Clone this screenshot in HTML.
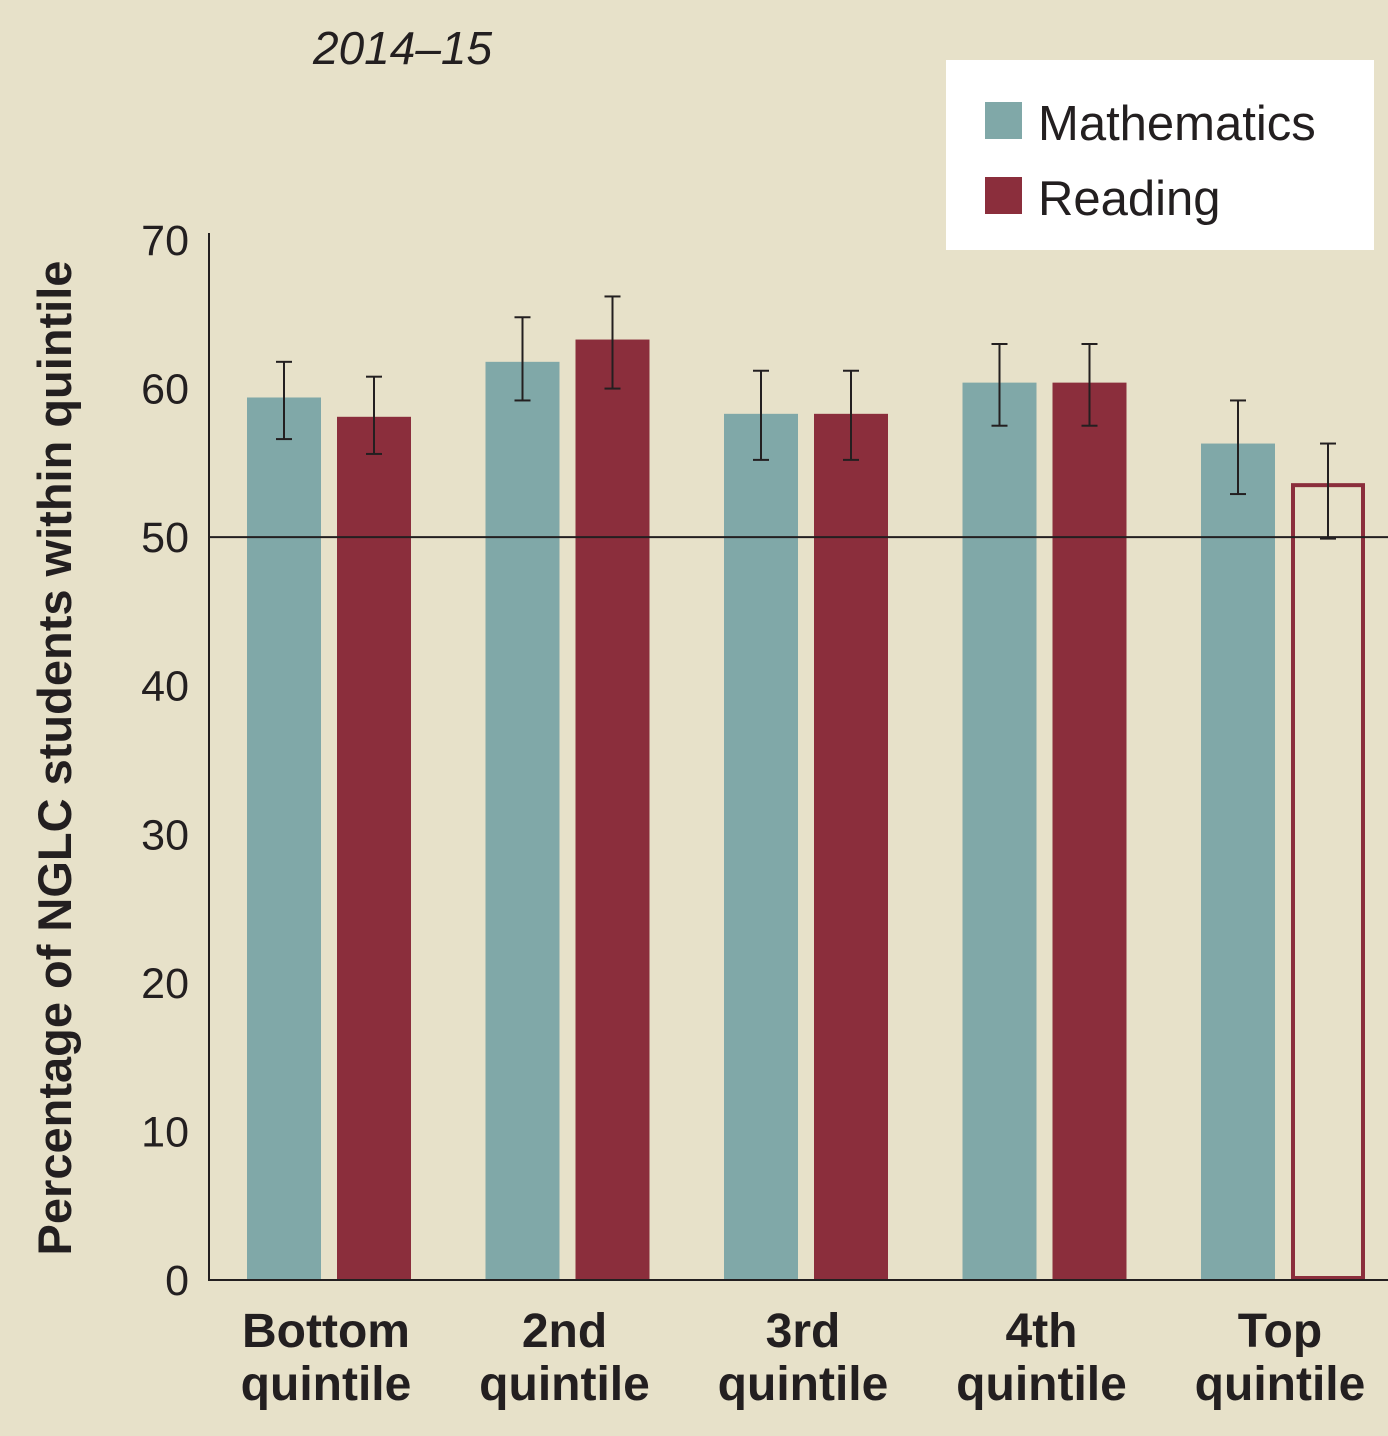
<!DOCTYPE html>
<html><head><meta charset="utf-8"><style>
body{margin:0;background:#e7e1c9;}
svg{display:block;font-family:"Liberation Sans",sans-serif;}
</style></head><body>
<svg id="chart" width="1388" height="1436" viewBox="0 0 1388 1436">
<rect width="1388" height="1436" fill="#e7e1c9"/>
<text x="313" y="64" font-size="46" font-style="italic" fill="#231f20">2014–15</text>
<g>
<rect x="946" y="60" width="428" height="190" fill="#fff"/>
<rect x="985" y="102" width="37" height="37" fill="#80a8a8"/>
<text x="1038" y="140" font-size="49" fill="#231f20">Mathematics</text>
<rect x="985" y="177" width="37" height="37" fill="#8b2e3c"/>
<text x="1038" y="215" font-size="49" fill="#231f20">Reading</text>
</g>
<text transform="translate(71,758) rotate(-90)" text-anchor="middle" font-size="47" font-weight="bold" fill="#231f20">Percentage of NGLC students within quintile</text>
<g id="ticks"></g>
<g id="bars"></g>
<line x1="209" y1="233" x2="209" y2="1281" stroke="#231f20" stroke-width="2"/>
<line x1="209" y1="1280" x2="1388" y2="1280" stroke="#231f20" stroke-width="2"/>
<g id="labels"></g>
</svg>
<script>
const categories=[["Bottom","quintile"],["2nd","quintile"],["3rd","quintile"],["4th","quintile"],["Top","quintile"]];
const mathValues=[59.4,61.8,58.3,60.4,56.3];
const mathLow=[56.6,59.2,55.2,57.5,52.9];
const mathHigh=[61.8,64.8,61.2,63.0,59.2];
const readValues=[58.1,63.3,58.3,60.4,53.5];
const readLow=[55.6,60.0,55.2,57.5,49.9];
const readHigh=[60.8,66.2,61.2,63.0,56.3];
const readOutline=[false,false,false,false,true];
const yTicks=[0,10,20,30,40,50,60,70];
const refLine=50;
const NS="http://www.w3.org/2000/svg";
const y=v=>1280-v*(1040/70);
const gx=i=>329+i*238.5;
const bw=74;
function mk(tag,attrs,parent){const e=document.createElementNS(NS,tag);for(const k in attrs)e.setAttribute(k,attrs[k]);parent.appendChild(e);return e;}
const tg=document.getElementById('ticks'),bg=document.getElementById('bars'),lg=document.getElementById('labels');
yTicks.forEach(t=>{const e=mk('text',{x:189,y:y(t)+15,'text-anchor':'end','font-size':43,fill:'#231f20'},tg);e.textContent=t;

});
function err(cx,lo,hi){const g=mk('g',{stroke:'#231f20','stroke-width':2},bg);


mk('line',{x1:cx,x2:cx,y1:y(hi),y2:y(lo)},g);mk('line',{x1:cx-8,x2:cx+8,y1:y(hi),y2:y(hi)},g);mk('line',{x1:cx-8,x2:cx+8,y1:y(lo),y2:y(lo)},g);}
categories.forEach((c,i)=>{
const mx=gx(i)-82;
const m=mk('rect',{x:mx,y:y(mathValues[i]),width:bw,height:y(0)-y(mathValues[i]),fill:'#80a8a8'},bg);


const rx=gx(i)+8;
let r;
if(readOutline[i]){r=mk('rect',{x:rx+2,y:y(readValues[i]),width:bw-4,height:y(0)-y(readValues[i])-2,fill:'none',stroke:'#8b2e3c','stroke-width':4},bg);}
else r=mk('rect',{x:rx,y:y(readValues[i]),width:bw,height:y(0)-y(readValues[i]),fill:'#8b2e3c'},bg);


err(mx+bw/2,mathLow[i],mathHigh[i]);err(rx+bw/2,readLow[i],readHigh[i]);
c.forEach((s,j)=>{const t=mk('text',{x:gx(i)-3,y:1347+j*53,'text-anchor':'middle','font-size':48,'font-weight':'bold',fill:'#231f20'},lg);t.textContent=s;

});
});
const rl=mk('line',{x1:209,x2:1388,y1:y(refLine),y2:y(refLine),stroke:'#231f20','stroke-width':2},bg);


</script>
</body></html>
